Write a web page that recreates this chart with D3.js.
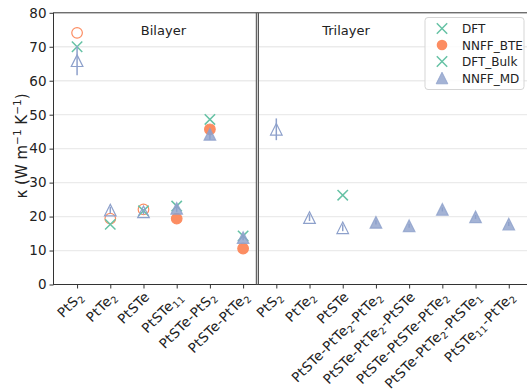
<!DOCTYPE html>
<html><head><meta charset="utf-8">
<script src="https://cdn.jsdelivr.net/npm/d3@7"></script>
<style>body{margin:0;background:#fff;} svg{display:block;font-family:"DejaVu Sans",sans-serif;}</style>
</head><body>
<svg id="c" width="527" height="391"></svg>
<script>
// ---- data ----
const categories = ["PtS_{2}","PtTe_{2}","PtSTe","PtSTe_{11}","PtSTe-PtS_{2}","PtSTe-PtTe_{2}",
  "PtS_{2}","PtTe_{2}","PtSTe","PtSTe-PtTe_{2}-PtTe_{2}","PtSTe-PtTe_{2}-PtSTe","PtSTe-PtSTe-PtTe_{2}","PtSTe-PtTe_{2}-PtSTe_{1}","PtSTe_{11}-PtTe_{2}"];
const dft     = [70.0, 17.7, 21.7, 23.1, 48.6, 14.3, null, null, 26.3, null, null, null, null, null];
const nnffBte = [74.1, 19.4, 22.1, 19.4, 45.7, 10.6, null, null, null, null, null, null, null, null];
const nnffMd  = [65.9, 21.9, 21.4, 22.4, 44.2, 13.8, 45.7, 19.7, 16.7, 18.3, 17.3, 22.1, 19.9, 17.8];
const mdErr   = [4.3, 1.0, 0.8, 1.0, 1.6, 0.8, 3.2, 1.0, 1.0, 0.6, 0.6, 0.6, 0.6, 0.6];
const hollow  = [true,true,true,false,false,false,true,true,true,false,false,false,false,false];
const yTicks  = [0,10,20,30,40,50,60,70,80];
const legendNames = ["DFT","NNFF_BTE","DFT_Bulk","NNFF_MD"];
const panelNames = ["Bilayer","Trilayer"];

const GREEN="#66c2a5", ORANGE="#fc8d62", BLUE="#8da0cb";
const svg = d3.select("#c");
const x = d3.scaleLinear().domain([-0.71, 13.7]).range([53.5, 532]);
const y = d3.scaleLinear().domain([0, 80]).range([284.5, 12.8]);

// grid
svg.append("g").selectAll("line").data(yTicks.filter(t=>t>0&&t<80)).join("line")
  .attr("x1", x(-0.71)).attr("x2", 527).attr("y1", d=>y(d)).attr("y2", d=>y(d))
  .attr("stroke", "#ebebeb").attr("stroke-width", 1.3);

// axes
const gy = svg.append("g").attr("transform", `translate(${x(-0.71)},0)`)
  .call(d3.axisLeft(y).tickValues(yTicks).tickSize(4).tickPadding(3));
gy.select(".domain").remove();
gy.selectAll("line").attr("stroke","#333");
gy.selectAll("text").attr("font-size", 13.5).attr("fill","#222").attr("font-family","DejaVu Sans");

const gx = svg.append("g").attr("transform", `translate(0,${y(0)})`)
  .call(d3.axisBottom(x).tickValues(d3.range(categories.length)).tickSize(4).tickFormat(""));
gx.select(".domain").remove();
gx.selectAll("line").attr("stroke","#333");

// x tick labels rotated
function addLabel(sel, s){
  const parts = s.split(/(_\{[^}]*\})/).filter(p=>p.length);
  parts.forEach(p=>{
    if(p.startsWith("_{")){
      sel.append("tspan").attr("font-size", 9.5).attr("dy", 3).text(p.slice(2,-1));
      sel.append("tspan").attr("font-size", 13.5).attr("dy", -3).text("\u200b");
    } else sel.append("tspan").text(p);
  });
}
svg.append("g").selectAll("text").data(categories).join("text")
  .attr("transform", (d,i)=>`translate(${x(i)+7},${y(0)+13}) rotate(-45)`)
  .attr("text-anchor","end").attr("font-size", 13.5).attr("letter-spacing", 0.45).attr("fill","#222")
  .each(function(d){ addLabel(d3.select(this), d); });

// spines
svg.append("rect").attr("x", x(-0.71)).attr("y", y(80)).attr("width", 540).attr("height", y(0)-y(80))
  .attr("fill","none").attr("stroke","#333").attr("stroke-width",1);

// separator (double line)
const sx = x(5.43);
svg.append("line").attr("x1",sx).attr("x2",sx).attr("y1",y(80)).attr("y2",y(0)).attr("stroke","#555").attr("stroke-width",3.2);
svg.append("line").attr("x1",sx).attr("x2",sx).attr("y1",y(80)+0.5).attr("y2",y(0)-0.5).attr("stroke","#ddd").attr("stroke-width",1);

// panel titles
svg.append("text").attr("x", x(2.6)).attr("y", 35).attr("text-anchor","middle").attr("font-size",13).attr("fill","#222").text(panelNames[0]);
svg.append("text").attr("x", x(8.1)).attr("y", 35).attr("text-anchor","middle").attr("font-size",13).attr("fill","#222").text(panelNames[1]);

// y label
svg.append("text").attr("transform","translate(27,146) rotate(-90)").attr("text-anchor","middle").attr("font-size",15).attr("fill","#222")
  .html('\u03ba (W m<tspan dy="-6" font-size="10.5">\u22121</tspan><tspan dy="6"> K</tspan><tspan dy="-6" font-size="10.5">\u22121</tspan><tspan dy="6">)</tspan>');

const M = svg.append("g");
const triPath = s => `M0,${-s}L${s},${s}L${-s},${s}Z`;
const xPath = s => `M${-s},${-s}L${s},${s}M${-s},${s}L${s},${-s}`;

// NNFF_BTE circles
nnffBte.forEach((v,i)=>{ if(v==null) return;
  M.append("circle").attr("cx",x(i)).attr("cy",y(v)).attr("r",5.3)
   .attr("fill", hollow[i]?"none":ORANGE).attr("stroke",ORANGE).attr("stroke-width",1.2);
});
// DFT crosses
dft.forEach((v,i)=>{ if(v==null) return;
  M.append("path").attr("transform",`translate(${x(i)},${y(v)})`).attr("d",xPath(5.2))
   .attr("stroke",GREEN).attr("stroke-width",1.5).attr("fill","none");
});
// NNFF_MD triangles with error bars
nnffMd.forEach((v,i)=>{
  M.append("line").attr("x1",x(i)).attr("x2",x(i)).attr("y1",y(v-mdErr[i])).attr("y2",y(v+mdErr[i]))
   .attr("stroke",BLUE).attr("stroke-width",1.5);
  M.append("path").attr("transform",`translate(${x(i)},${y(v)})`).attr("d",triPath(5.8))
   .attr("fill", hollow[i]?"none":BLUE).attr("fill-opacity",0.8)
   .attr("stroke",BLUE).attr("stroke-width",1.2).attr("stroke-opacity", hollow[i]?1:0.8);
});

// legend
const L = svg.append("g");
L.append("rect").attr("x",425).attr("y",17.5).attr("width",99).attr("height",72).attr("rx",3)
  .attr("fill","#fff").attr("fill-opacity",0.85).attr("stroke","#d5d5d5");
const ly = [28.5, 45, 61.5, 78];
legendNames.forEach((n,k)=>{
  const g = L.append("g").attr("transform",`translate(442,${ly[k]})`);
  if(k===0||k===2) g.append("path").attr("d",xPath(5.2)).attr("stroke",GREEN).attr("stroke-width",1.5);
  if(k===1) g.append("circle").attr("r",5.3).attr("fill",ORANGE);
  if(k===3) g.append("path").attr("d",triPath(5.8)).attr("fill",BLUE).attr("fill-opacity",0.8).attr("stroke",BLUE).attr("stroke-opacity",0.8);
  L.append("text").attr("x",462).attr("y",ly[k]+4.5).attr("font-size",12).attr("fill","#222").text(n);
});
</script>
</body></html>
